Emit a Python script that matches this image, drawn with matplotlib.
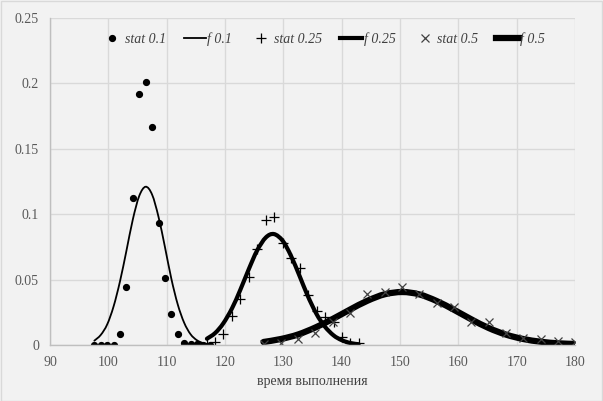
import matplotlib
matplotlib.use("Agg")
import matplotlib.pyplot as plt
from matplotlib.patches import Rectangle, PathPatch
from matplotlib.path import Path

# ---- data ----
x_01 = [97.6, 98.7, 99.8, 100.9, 102.0, 103.1, 104.2, 105.3, 106.4, 107.5,
        108.6, 109.7, 110.8, 111.9, 113.0, 114.1, 115.2, 116.3, 117.4]
stat_01 = [0.0, 0.0, 0.0, 0.0, 0.0084, 0.0446, 0.1127, 0.192, 0.201, 0.167,
           0.093, 0.051, 0.024, 0.0084, 0.0015, 0.0008, 0.0008, 0.0003, 0.0003]
f_01 = [0.0033, 0.0077, 0.0157, 0.0295, 0.0487, 0.072, 0.096, 0.114, 0.121, 0.115,
        0.098, 0.075, 0.0507, 0.031, 0.017, 0.0082, 0.0036, 0.0014, 0.0005]

x_025 = [116.9, 118.3, 119.7, 121.2, 122.6, 124.1, 125.5, 127.0, 128.4, 129.9,
         131.3, 132.8, 134.2, 135.7, 137.1, 138.6, 140.0, 141.5, 142.9]
stat_025 = [0.0006, 0.0025, 0.0084, 0.0224, 0.0352, 0.0523, 0.0737, 0.0959, 0.0977, 0.0777,
            0.0665, 0.0587, 0.038, 0.026, 0.0217, 0.0178, 0.0064, 0.0018, 0.0015]
f_025 = [0.0048, 0.0091, 0.0165, 0.028, 0.0419, 0.0582, 0.0722, 0.0822, 0.0848, 0.0796,
         0.0683, 0.0526, 0.0374, 0.0236, 0.0142, 0.0074, 0.0037, 0.0015, 0.0006]

x_05 = [126.6, 129.6, 132.5, 135.5, 138.5, 141.4, 144.4, 147.4, 150.4, 153.3,
        156.3, 159.3, 162.2, 165.2, 168.2, 171.1, 174.1, 177.1, 180.0]
stat_05 = [0.0008, 0.0012, 0.0045, 0.0093, 0.0178, 0.0241, 0.039, 0.0408, 0.0446, 0.0388,
           0.0319, 0.0288, 0.0178, 0.0173, 0.0094, 0.0056, 0.0046, 0.0033, 0.0025]
f_05 = [0.0023, 0.0046, 0.0080, 0.0134, 0.0200, 0.0270, 0.0338, 0.0388, 0.0405, 0.0387,
        0.0336, 0.0268, 0.0197, 0.0130, 0.0079, 0.0046, 0.0025, 0.0013, 0.0008]

x_ticks = [90, 100, 110, 120, 130, 140, 150, 160, 170, 180]
y_ticks = [0, 0.05, 0.1, 0.15, 0.2, 0.25]
y_tick_labels = ["0", "0.05", "0.1", "0.15", "0.2", "0.25"]
x_label = "время выполнения"


def smooth_path(xs, ys):
    """Excel-style smoothed line: Catmull-Rom segments drawn as cubic Bezier curves."""
    pts = list(zip(xs, ys))
    verts = [pts[0]]
    codes = [Path.MOVETO]
    n = len(pts)
    for i in range(n - 1):
        p0 = pts[i - 1] if i > 0 else pts[i]
        p1 = pts[i]
        p2 = pts[i + 1]
        p3 = pts[i + 2] if i + 2 < n else pts[i + 1]
        c1 = (p1[0] + (p2[0] - p0[0]) / 6, p1[1] + (p2[1] - p0[1]) / 6)
        c2 = (p2[0] - (p3[0] - p1[0]) / 6, p2[1] - (p3[1] - p1[1]) / 6)
        verts += [c1, c2, p2]
        codes += [Path.CURVE4] * 3
    return Path(verts, codes)


# ---- figure ----
plt.rcParams['font.family'] = ['Liberation Serif', 'DejaVu Serif']
bg = '#f2f2f2'
fig = plt.figure(figsize=(6.03, 4.01), dpi=100, facecolor=bg)
ax = fig.add_axes([50 / 603, 1 - 345 / 401, 525 / 603, 327 / 401], facecolor=bg)
fig.patches.append(Rectangle((0.001, 0.001), 0.997, 0.996, transform=fig.transFigure,
                             fill=False, edgecolor='#d9d9d9', linewidth=1))

ax.plot(x_01, stat_01, linestyle='none', marker='o', markersize=4.2,
        color='black', label='stat 0.1')
# legend proxies for the smoothed lines (drawn below as paths)
ax.plot([], [], color='black', linewidth=1.3, label='f 0.1')
ax.add_patch(PathPatch(smooth_path(x_01, f_01), fill=False, edgecolor='black',
                       linewidth=1.3, capstyle='round'))
ax.plot(x_025, stat_025, linestyle='none', marker='+', markersize=7,
        markeredgewidth=0.9, color='black', label='stat 0.25')
ax.plot([], [], color='black', linewidth=3.0, label='f 0.25')
ax.add_patch(PathPatch(smooth_path(x_025, f_025), fill=False, edgecolor='black',
                       linewidth=3.0, capstyle='round'))
ax.plot(x_05, stat_05, linestyle='none', marker='x', markersize=6,
        markeredgewidth=0.9, color='#404040', label='stat 0.5')
ax.plot([], [], color='black', linewidth=4.5, label='f 0.5')
ax.add_patch(PathPatch(smooth_path(x_05, f_05), fill=False, edgecolor='black',
                       linewidth=4.5, capstyle='round'))

ax.set_xlim(90, 180)
ax.set_ylim(0, 0.25)
ax.set_xticks(x_ticks)
ax.set_yticks(y_ticks)
ax.set_yticklabels(y_tick_labels)
ax.grid(True, color='#d9d9d9', linewidth=1)
ax.set_axisbelow(True)
for s in ['top', 'right']:
    ax.spines[s].set_visible(False)
for s in ['left', 'bottom']:
    ax.spines[s].set_color('#bfbfbf')
    ax.spines[s].set_linewidth(1)
ax.tick_params(length=0, labelsize=10, colors='#595959', pad=8)
ax.set_xlabel(x_label, fontsize=10, color='#404040', labelpad=4)

leg = ax.legend(loc='center', bbox_to_anchor=(0.52, 0.935), ncol=6, frameon=False,
                handlelength=1.6, handletextpad=0.1, columnspacing=1.3,
                prop={'style': 'italic', 'size': 10})
for t in leg.get_texts():
    t.set_color('#404040')

fig.savefig('out.png', dpi=100, facecolor=bg)
